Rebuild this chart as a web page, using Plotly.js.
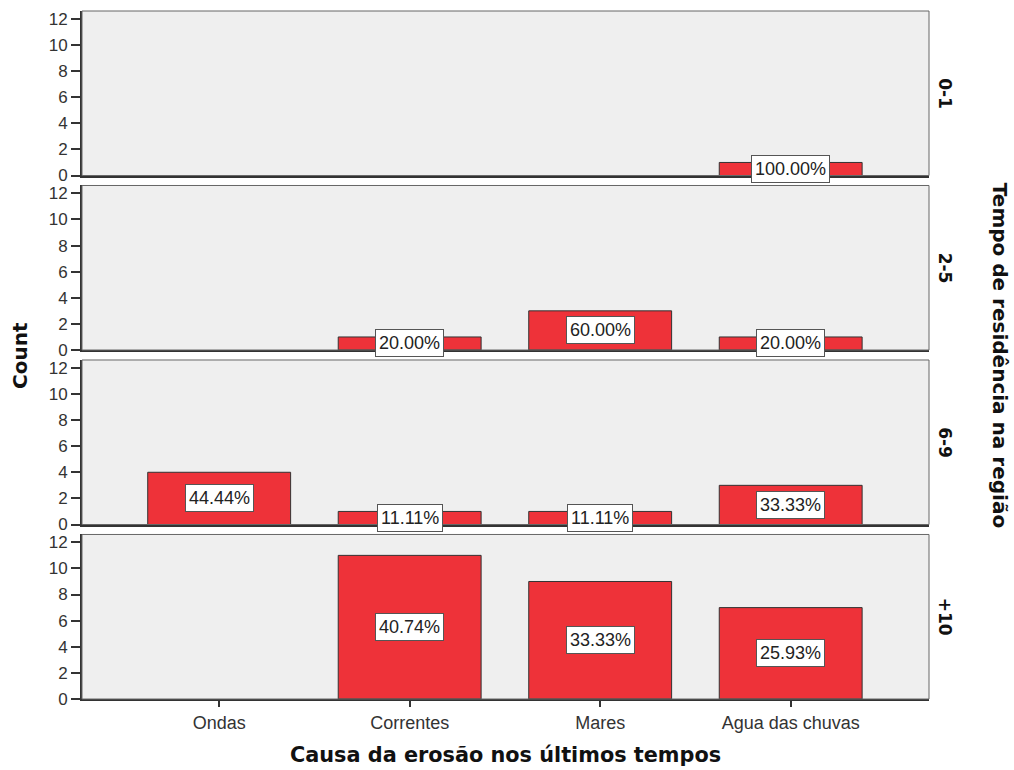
<!DOCTYPE html>
<html><head><meta charset="utf-8">
<script src="https://cdn.plot.ly/plotly-3.0.1.min.js"></script>
<style>body{margin:0;background:#fff}#c{width:1014px;height:770px}</style>
</head><body><div id="c"></div>
<script>
const categories = ["Ondas", "Correntes", "Mares", "Agua das chuvas"];
const groups = ["0-1", "2-5", "6-9", "+10"];
const counts01 = [0, 0, 0, 1];
const counts25 = [0, 1, 3, 1];
const counts69 = [4, 1, 1, 3];
const counts10 = [0, 11, 9, 7];
const yTicks = [0, 2, 4, 6, 8, 10, 12];

const allCounts = [counts01, counts25, counts69, counts10];
const font = "Liberation Sans, Arial, sans-serif";
const boldFont = "DejaVu Sans, Verdana, sans-serif";
const nP = 4, gap = 0.0145, ph = (1 - gap * (nP - 1)) / nP;

const data = [], annotations = [], shapes = [];
const layout = {
  width: 1014, height: 770,
  margin: {l: 82, r: 85, t: 11, b: 71},
  paper_bgcolor: "#ffffff", plot_bgcolor: "#efefef",
  showlegend: false, bargap: 0.25,
  font: {family: font, size: 13, color: "#333"}
};

allCounts.forEach((vals, i) => {
  const k = i + 1, sx = k === 1 ? "" : k;
  const top = 1 - i * (ph + gap), bot = top - ph;
  const xs = [], ys = [];
  vals.forEach((v, j) => { if (v > 0) { xs.push(categories[j]); ys.push(v); } });
  data.push({
    type: "bar", x: xs, y: ys, xaxis: "x" + sx, yaxis: "y" + sx,
    marker: {color: "#ee3239", line: {color: "#333", width: 1}},
    hoverinfo: "skip"
  });
  layout["xaxis" + sx] = {
    domain: [0, 1], anchor: "y" + sx, type: "category",
    categoryorder: "array", categoryarray: categories,
    range: [-0.72, 3.726], showgrid: false, zeroline: false,
    showline: true, linecolor: "#333", linewidth: 2,
    ticks: k === nP ? "outside" : "", ticklen: 6, tickcolor: "#333", tickwidth: 2,
    showticklabels: k === nP, tickfont: {size: 18, color: "#333", family: font},
    fixedrange: true
  };
  layout["yaxis" + sx] = {
    domain: [bot, top], anchor: "x" + sx, range: [0, 12.6],
    tickvals: yTicks, ticktext: yTicks.map(String),
    showgrid: false, zeroline: false,
    showline: true, linecolor: "#333", linewidth: 2,
    ticks: "outside", ticklen: 9, tickcolor: "#333", tickwidth: 2,
    tickfont: {size: 17, color: "#333", family: font}, fixedrange: true
  };
  shapes.push({type: "rect", xref: "x" + sx + " domain", yref: "y" + sx + " domain",
    x0: 0, x1: 1, y0: 0, y1: 1, line: {color: "#666", width: 1}, layer: "above"});
  const total = vals.reduce((a, b) => a + b, 0);
  vals.forEach((v, j) => {
    if (v > 0) {
      annotations.push({
        xref: "x" + sx, yref: "y" + sx, x: categories[j], y: v / 2,
        text: (100 * v / total).toFixed(2) + "%", showarrow: false,
        font: {size: 18, color: "#222", family: font},
        bgcolor: "#ffffff", bordercolor: "#555", borderwidth: 1, borderpad: 3
      });
    }
  });
  annotations.push({
    xref: "paper", yref: "paper", x: 1.019, y: (top + bot) / 2,
    xanchor: "center", yanchor: "middle",
    text: "<b>" + groups[i] + "</b>", showarrow: false, textangle: 90,
    font: {size: 17, color: "#111", family: boldFont}
  });
});

annotations.push({
  xref: "paper", yref: "paper", x: 1.084, y: 0.5, xanchor: "center", yanchor: "middle",
  text: "<b>Tempo de residência na região</b>", showarrow: false, textangle: 90,
  font: {size: 20, color: "#111", family: boldFont}
});
annotations.push({
  xref: "paper", yref: "paper", x: -0.0732, y: 0.5, xanchor: "center", yanchor: "middle",
  text: "<b>Count</b>", showarrow: false, textangle: -90,
  font: {size: 20, color: "#111", family: boldFont}
});
annotations.push({
  xref: "paper", yref: "paper", x: 0.5, y: -0.0815, xanchor: "center", yanchor: "middle",
  text: "<b>Causa da erosão nos últimos tempos</b>", showarrow: false,
  font: {size: 20.8, color: "#111", family: boldFont}
});
layout.annotations = annotations;
layout.shapes = shapes;

Plotly.newPlot("c", data, layout, {displayModeBar: false, staticPlot: true});
</script></body></html>
